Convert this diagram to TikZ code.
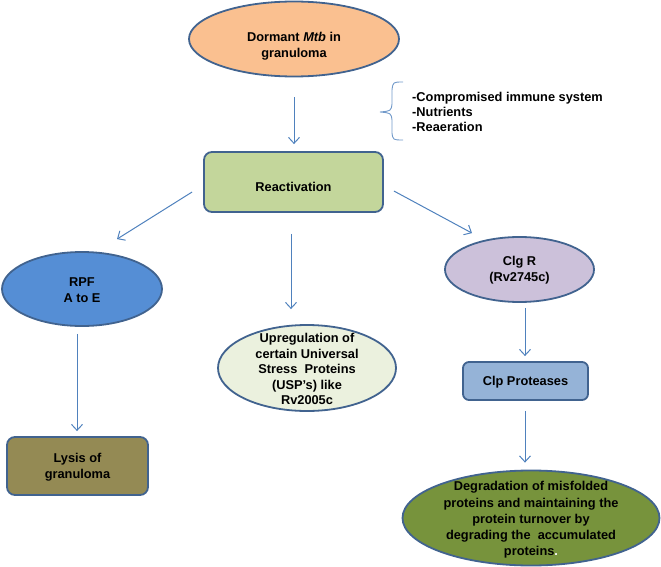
\documentclass[tikz,border=0pt]{standalone}
\usepackage{fontspec}
\setmainfont{Liberation Sans}
\usetikzlibrary{shapes.geometric,arrows.meta}
\definecolor{bord}{HTML}{41638F}
\definecolor{arrc}{HTML}{4F81BD}
\definecolor{cDorm}{HTML}{FAC090}
\definecolor{cReact}{HTML}{C3D69B}
\definecolor{cRpf}{HTML}{558ED5}
\definecolor{cLysis}{HTML}{948A54}
\definecolor{cUsp}{HTML}{EBF1DE}
\definecolor{cClg}{HTML}{CCC1DA}
\definecolor{cClp}{HTML}{95B3D7}
\definecolor{cDeg}{HTML}{77933C}
\tikzset{
  shp/.style={draw=bord, line width=1.8pt, inner sep=0pt},
  ell/.style={shp, ellipse},
  rbox/.style={shp, rectangle, rounded corners=8pt},
  txt/.style={align=center, inner sep=0pt, font=\fontsize{12.8}{15.5}\selectfont\bfseries},
  arr/.style={draw=arrc, line width=1pt, -{Straight Barb[length=6pt,width=11pt,line width=1pt]}}
}
\begin{document}
\begin{tikzpicture}[x=1pt,y=-1pt]
\useasboundingbox (0,0) rectangle (661,567);
% shapes
\node[ell, fill=cDorm, minimum width=210pt, minimum height=75pt] (dorm) at (294,39) {};
\node[rbox, fill=cReact, minimum width=179pt, minimum height=60pt] (react) at (293.5,182) {};
\node[ell, fill=cRpf, minimum width=160pt, minimum height=74pt] (rpf) at (82,289) {};
\node[rbox, fill=cLysis, minimum width=141pt, minimum height=58pt] (lysis) at (77.5,466) {};
\node[ell, fill=cUsp, minimum width=178pt, minimum height=86pt] (usp) at (307,368) {};
\node[ell, fill=cClg, minimum width=149pt, minimum height=65pt] (clg) at (519.5,269.5) {};
\node[rbox, rounded corners=6pt, fill=cClp, minimum width=125pt, minimum height=38pt] (clp) at (525.5,381) {};
\node[ell, fill=cDeg, minimum width=257pt, minimum height=95pt] (deg) at (531,518) {};
% texts
\node[txt] (dormT) at (294,46) {Dormant \textit{Mtb} in\\granuloma};
\node[txt] (reactT) at (293.5,187) {Reactivation};
\node[txt] (rpfT) at (82,290) {RPF\\A to E};
\node[txt] (lysisT) at (77.5,467) {Lysis of\\granuloma};
\node[txt] (uspT) at (307,369) {Upregulation of\\certain Universal\\Stress\ \ Proteins\\(USP’s) like\\Rv2005c};
\node[txt] (clgT) at (519.5,270) {Clg R\\(Rv2745c)};
\node[txt] (clpT) at (525.5,382) {Clp Proteases};
\node[txt, font=\fontsize{12.8}{16.2}\selectfont\bfseries] (degT) at (531,520) {Degradation of misfolded\\proteins and maintaining the\\protein turnover by\\degrading the\ \ accumulated\\proteins\textcolor{white}{.}};
% bracket and factors
\draw[draw=arrc!80, line width=0.9pt] (403,82) .. controls (393,82) .. (392,90) -- (392,104) .. controls (391,111) .. (380,112) .. controls (391,113) .. (392,120) -- (392,133) .. controls (393,140) .. (403,140);
\node[txt, align=left, anchor=west, font=\fontsize{12.8}{15}\selectfont\bfseries] (factors) at (412,112) {-Compromised immune system\\-Nutrients\\-Reaeration};
% connectors
\draw[arr] ([yshift=-20pt]dorm.south) -- ([xshift=0.5pt,yshift=7pt]react.north);
\draw[arr] ([xshift=-11pt,yshift=-10pt]react.west) -- ([xshift=35pt,yshift=12pt]rpf.north);
\draw[arr] ([xshift=-2.5pt,yshift=-21pt]react.south) -- ([xshift=-16pt,yshift=15pt]usp.north);
\draw[arr] ([xshift=10pt,yshift=-9pt]react.east) -- ([xshift=-47.5pt,yshift=3pt]clg.north);
\draw[arr] ([xshift=-5pt,yshift=-7pt]rpf.south) -- ([xshift=-0.5pt,yshift=5pt]lysis.north);
\draw[arr] ([xshift=5.5pt,yshift=-5pt]clg.south) -- ([xshift=-0.5pt,yshift=5pt]clp.north);
\draw[arr] ([xshift=-0.5pt,yshift=-10pt]clp.south) -- ([xshift=-6pt,yshift=7pt]deg.north);
\end{tikzpicture}
\end{document}
